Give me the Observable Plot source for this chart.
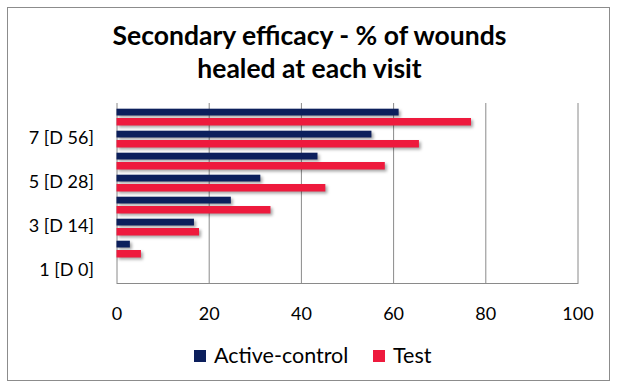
<!DOCTYPE html>
<html><head><meta charset="utf-8">
<script src="https://cdn.jsdelivr.net/npm/d3@7"></script>
<script src="https://cdn.jsdelivr.net/npm/@observablehq/plot@0.6"></script>
<style>
body{margin:0;background:#fff;}
#wrap{position:relative;width:619px;height:390px;font-family:Lato,"Noto Sans",sans-serif;color:#000;overflow:hidden;}
#border{position:absolute;left:7px;top:7px;width:603px;height:374px;border:1px solid #8c8c8c;box-sizing:border-box;}
#title{position:absolute;left:0;width:619px;top:19px;text-align:center;font-weight:bold;font-size:26.5px;line-height:33px;}
#chart{position:absolute;left:0;top:95px;}
#legend{position:absolute;left:0;top:342px;width:619px;font-size:21.5px;line-height:26px;}
.item{position:absolute;top:0;white-space:nowrap;}
.sw{display:inline-block;width:12px;height:12px;margin-right:8px;vertical-align:1px;}
.chartsvg g[aria-label="bar"] rect{filter:drop-shadow(2px 2px 1.5px rgba(0,0,0,0.35));}
</style></head>
<body>
<div id="wrap">
  <div id="border"></div>
  <div id="title">Secondary efficacy - % of wounds<br>healed at each visit</div>
  <div id="chart"></div>
  <div id="legend"></div>
</div>
<script>
const visits = [1, 2, 3, 4, 5, 6, 7, 8];
const tickLabels = ["1 [D 0]", "", "3 [D 14]", "", "5 [D 28]", "", "7 [D 56]", ""];
const seriesNames = ["Active-control", "Test"];
const activeControl = [0, 2.9, 16.8, 24.8, 31.2, 43.6, 55.3, 61.2];
const test = [0, 5.3, 17.9, 33.4, 45.3, 58.2, 65.6, 76.9];
const xTicks = [0, 20, 40, 60, 80, 100];
const colors = ["#0c1f5c", "#ee1a3d"];

const activeData = visits.map((v, i) => ({visit: v, value: activeControl[i], series: seriesNames[0]}));
const testData = visits.map((v, i) => ({visit: v, value: test[i], series: seriesNames[1]}));

const chart = Plot.plot({
  width: 619,
  height: 230,
  marginLeft: 116.5,
  marginRight: 41.5,
  marginTop: 8,
  marginBottom: 42,
  className: "chartsvg",
  style: {fontFamily: "Lato, 'Noto Sans', sans-serif", fontSize: "18px", color: "#000", background: "transparent"},
  x: {domain: [0, 100], ticks: xTicks},
  y: {domain: visits.slice().reverse(), padding: 0},
  color: {domain: seriesNames, range: colors},
  marks: [
    Plot.gridX(xTicks, {stroke: "#8a8a8a", strokeOpacity: 1}),
    Plot.frame({anchor: "bottom", stroke: "#8a8a8a"}),
    Plot.barX(activeData, {x: "value", y: "visit", fill: "series", insetTop: 3.7, insetBottom: 11.5}),
    Plot.barX(testData, {x: "value", y: "visit", fill: "series", insetTop: 13, insetBottom: 1.5}),
    Plot.axisX({ticks: xTicks, tickSize: 0, tickPadding: 24, fontSize: 18, label: null}),
    Plot.axisY({tickSize: 0, tickPadding: 23, fontSize: 18, label: null, tickFormat: d => tickLabels[visits.indexOf(d)]})
  ]
});
document.getElementById("chart").appendChild(chart);

const legend = document.getElementById("legend");
const lx = [194, 373];
seriesNames.forEach((s, i) => {
  const d = document.createElement("div");
  d.className = "item";
  d.style.left = lx[i] + "px";
  d.innerHTML = `<span class="sw" style="background:${colors[i]}"></span>${s}`;
  legend.appendChild(d);
});
</script>
</body></html>
